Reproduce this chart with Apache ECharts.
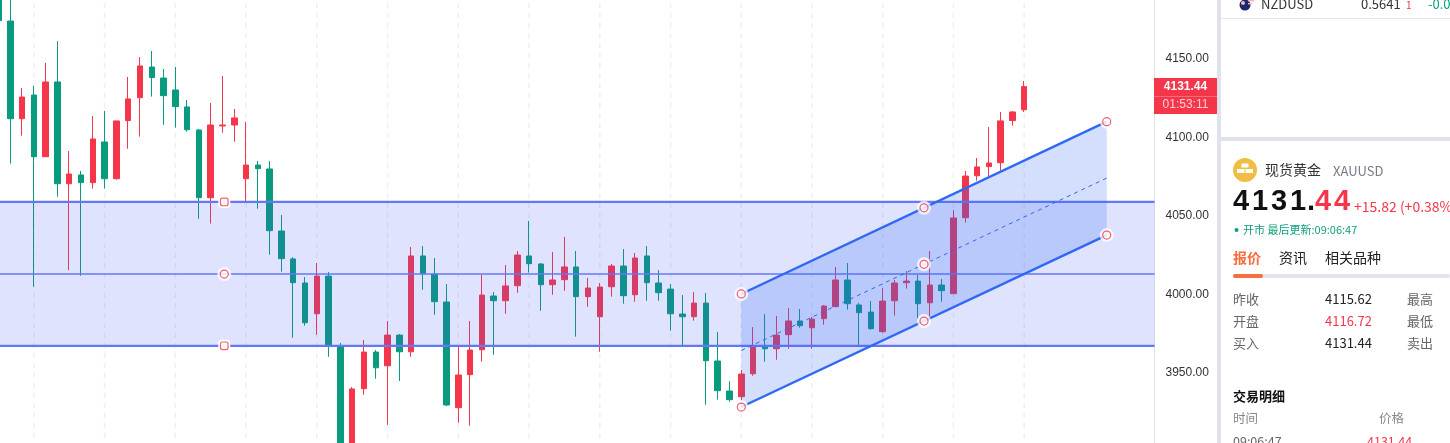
<!DOCTYPE html>
<html><head><meta charset="utf-8">
<style>html,body{margin:0;padding:0;background:#fff;overflow:hidden}#c{width:1450px;height:443px}</style>
<script src="https://cdn.jsdelivr.net/npm/echarts@6/dist/echarts.min.js"></script>
</head><body><div id="c"></div>
<script>
// candle rows: [open, close, low, high]
const candles = [
[4200,4173.5,4170,4205],[4173.2,4111,4082.4,4195],[4111,4124.8,4100.2,4130.6],[4126.1,4086.8,4004,4131.8],
[4086.8,4134.4,4086.8,4146.5],[4134.4,4069.6,4061.4,4160.5],[4069.6,4075.8,4014.6,4090.4],[4075.2,4070.3,4011,4077.7],
[4070.3,4098.1,4066.5,4112.7],[4096.2,4072.8,4066.5,4115.9],[4072.8,4109.6,4072.2,4109.6],[4109.8,4123.6,4091.9,4137.6],
[4124.4,4144.6,4099.6,4150.3],[4143.9,4137.2,4125.1,4154.1],[4136.9,4125.7,4107.2,4142.7],[4129.3,4118.7,4105.3,4143.9],
[4118.5,4104,4102.8,4122.9],[4103.8,4060.7,4047.3,4104.5],[4060.7,4107,4044.2,4121],[4106.4,4107,4102.1,4138.2],
[4107,4111.5,4096.4,4117.2],[4072.8,4081.5,4058.2,4108.9],[4081.5,4079.2,4053.7,4084.1],[4079,4039.7,4024.4,4084.1],
[4039.5,4021.9,4013.6,4049.7],[4021.7,4006.6,3971.5,4022.9],[4006.4,3981.1,3979.2,4010.2],[3986.8,4010.8,3973.5,4019.1],
[4010.8,3966,3959.4,4013.4],[3966,3900,3895,3968.2],[3900,3938.9,3895,3940.1],[3939.1,3962.4,3935.2,3970.1],
[3962.4,3952.4,3945.4,3963.7],[3953.7,3973.2,3916.1,3982.2],[3973.2,3962.6,3944,3973.9],[3962.6,4023.6,3959.4,4029.3],
[4023.6,4012.3,4002.1,4029.9],[4012.1,3994.5,3986.2,4022.3],[3994.3,3928.7,3928,4005.7],[3927,3947.8,3917.4,3965.6],
[3948,3963.7,3915.5,3982.2],[3963.9,3998.7,3956.3,4011.5],[3998.1,3995.1,3960.7,4000.6],[3995.1,4004.5,3986.8,4017.8],
[4004.7,4024.2,4000.2,4026.8],[4023.6,4018.7,4013,4045.9],[4018.5,4005.3,3988.7,4019.1],[4005.3,4008.3,3998.9,4026.1],
[4008.5,4016.6,4001.5,4035.7],[4016.6,3997.7,3972.2,4026.8],[3997.7,4003.2,3991.3,4009.6],[3984.9,4003.8,3962.6,4006.4],
[4004,4017.2,3997.7,4018.5],[4017.2,3998.3,3993.2,4028],[3998.9,4022.3,3994.5,4025.5],[4023.6,4006.6,3995.1,4029.9],
[4006.4,4000.2,3995.1,4014.6],[4002.5,3986.8,3976,4005.7],[3986.6,3984.9,3966.5,3998.7],[3984.9,3993.6,3982.4,4000.6],
[3993.6,3956.9,3928.9,4000],[3956.7,3937.8,3932.1,3975.2],[3937.6,3932.1,3930.8,3943.9],[3934,3948.4,3931.4,3951],
[3948.6,3966.2,3947.3,3978.3],[3965.6,3964.5,3956.3,3986.6],[3964.5,3973.2,3957.5,3985.4],[3973.5,3982.2,3964.5,3990.4],
[3982.2,3979.2,3977.9,3989.8],[3977.9,3983.4,3964.5,3984.7],[3983.7,3991.7,3979.8,3992.4],[3991.3,4008.3,3991.3,4016.6],
[4008.3,3993.2,3989.4,4019.1],[3992.4,3987.5,3966.2,3993.6],[3987.9,3977.3,3976.6,3994.9],[3975.4,3994.9,3974.7,4003.2],
[3995.1,4006.4,3985.6,4008.3],[4006.6,4007.6,4002.8,4014],[4007.6,3993.2,3983.9,4011.5],[3993.8,4005.1,3984.9,4026.8],
[4005.1,4001.5,3994.5,4008.9],[3999.6,4047.8,3999.6,4052.9],[4048,4074.5,4044.8,4077.7],[4074.7,4080.3,4071.5,4086],
[4080.5,4082.8,4074.3,4105.7],[4083,4109.6,4077.9,4115.3],[4109.8,4115.3,4106.6,4115.9],[4116.72,4131.44,4115.3,4135]
];
const barSlots = 99;                 // candle slots on the time axis, including empty future ones
const categories = Array.from({length: barSlots}, (_, i) => String(i));
const gridIndices = [3,9,15,21,27,33,39,45,51,57,63,69,75,81,87];
const yTicks = [3950,4000,4050,4100,4150];
const yMin = 3904.5, yMax = 4186.6;
// horizontal channel
const hLevels = [4058, 4012.1, 3966.4];
const hWidths = [2.2, 1.4, 2.2];
const hSpan = [-0.6, 98.05];
const hHandleIndex = 19.15;
// rising parallel channel: [index, price]
const chUpper = [[63,3999.4],[94,4109.1]];
const chLower = [[63,3927.4],[94,4036.9]];
const chMiddle = [[63,3963.4],[94,4073.2]];
const chMidIndex = 78.5;

const RED='#f5364a', GREEN='#089b7e', BLUE='#2f68f5', HBLUE='#6478f5';

function ptOnLine(l,x){return l[0][1]+(l[1][1]-l[0][1])*(x-l[0][0])/(l[1][0]-l[0][0]);}

const panelText = [
 // text,x,y,size,color,weight
 ['NZDUSD',1261,4,13,'#333',400],['0.5641',1361,4,13,'#333',400],['1',1406,5,10,RED,400],['-0.0',1428,4,13,'#0a9c7f',400],
 ['现货黄金',1265,170,14,'#333',400],['XAUUSD',1333,171,13,'#777a85',400],
 ['+15.82 (+0.38%',1354,207,14,RED,400],
 ['开市 最后更新:09:06:47',1243,230,11,'#0f9d80',400],
 ['报价',1233,258,14,'#fb6b3c',700],['资讯',1279,258,14,'#222',400],['相关品种',1325,258,14,'#222',400],
 ['昨收',1233,299,13,'#666',400],['4115.62',1325,299,13,'#222',400],['最高',1407,299,13,'#666',400],
 ['开盘',1233,321,13,'#666',400],['4116.72',1325,321,13,RED,400],['最低',1407,321,13,'#666',400],
 ['买入',1233,343,13,'#666',400],['4131.44',1325,343,13,'#222',400],['卖出',1407,343,13,'#666',400],
 ['交易明细',1233,396,13,'#111',700],
 ['时间',1233,418,12.5,'#888',400],['价格',1379,418,12.5,'#888',400],
 ['09:06:47',1233,441,12.5,'#666',400],['4131.44',1367,441,12.5,RED,400]
];
const bigPrice = [['4',1233,'#111'],['1',1252,'#111'],['3',1271,'#111'],['1',1290,'#111'],['.',1307,'#111'],['4',1315,RED],['4',1334,RED]];
const FONT='"Noto Sans CJK SC","Open Sans",sans-serif';
const graphics = [
 {type:'rect',shape:{x:1154,y:0,width:1,height:443},style:{fill:'#dfe2ed'},silent:true},
 {type:'rect',shape:{x:1217,y:0,width:4,height:443},style:{fill:'#dfe2ed'},silent:true},
 {type:'rect',shape:{x:1221,y:18,width:229,height:1},style:{fill:'#e3e6ef'},silent:true},
 {type:'rect',shape:{x:1221,y:137,width:229,height:4},style:{fill:'#dfe2ed'},silent:true},
 {type:'rect',shape:{x:1154,y:78,width:63,height:36},style:{fill:RED},silent:true},
 {type:'rect',shape:{x:1154,y:96,width:63,height:1},style:{fill:'#f76a79'},silent:true},
 {type:'text',style:{text:'4131.44',x:1185.5,y:87,fill:'#fff',font:'bold 12px "Liberation Sans",Arial',align:'center',verticalAlign:'middle'}},
 {type:'text',style:{text:'01:53:11',x:1185.5,y:105,fill:'#fdd0d5',font:'12px "Liberation Sans",Arial',align:'center',verticalAlign:'middle'}},
 {type:'circle',shape:{cx:1245,cy:5,r:5.5},style:{fill:'#1a2a6c'}},
 {type:'circle',shape:{cx:1243,cy:3,r:2},style:{fill:'#f3b7bd'}},
 {type:'rect',shape:{x:1248,y:0,width:6,height:1.4},style:{fill:'#f3b7bd'}},
 {type:'rect',shape:{x:1248,y:3,width:4,height:1.4},style:{fill:'#f3b7bd'}},
 {type:'circle',shape:{cx:1245,cy:170,r:12},style:{fill:'#f0bd45'}},
 {type:'rect',shape:{x:1241.5,y:163.5,width:7,height:4},style:{fill:'#fff'}},
 {type:'rect',shape:{x:1237,y:169,width:7.5,height:4},style:{fill:'#fff'}},
 {type:'rect',shape:{x:1245.5,y:169,width:7.5,height:4},style:{fill:'#fff'}},
 {type:'circle',shape:{cx:1236.5,cy:230,r:2},style:{fill:'#0f9d80'}},
 {type:'rect',shape:{x:1233,y:274,width:217,height:4,r:2},style:{fill:'#e2e4ee'}},
 {type:'rect',shape:{x:1233,y:274,width:30,height:4,r:2},style:{fill:'#fb6b3c'}}
].concat(bigPrice.map(t=>({type:'text',style:{text:t[0],x:t[1],y:202,fill:t[2],font:'bold 29px "Liberation Sans"',verticalAlign:'middle'}})))
 .concat(panelText.map(t=>({type:'text',style:{text:t[0],x:t[1],y:t[2],fill:t[4],font:t[5]+' '+t[3]+'px '+FONT,verticalAlign:'middle'}})));

function handle(api,x,y,square){
  const p=api.coord([x,y]);
  const halo={type:'circle',shape:{cx:p[0],cy:p[1],r:7},style:{fill:'rgba(255,255,255,0.75)'}};
  if(square) return [{type:'rect',shape:{x:p[0]-6,y:p[1]-6,width:12,height:12,r:3},style:{fill:'#fff'}},
    {type:'rect',shape:{x:p[0]-3.8,y:p[1]-3.8,width:7.6,height:7.6,r:2},style:{fill:'#fff',stroke:'#f2606f',lineWidth:1.2}}];
  return [halo,{type:'circle',shape:{cx:p[0],cy:p[1],r:4},style:{fill:'rgba(255,255,255,0.35)',stroke:'#f2606f',lineWidth:1.2}}];
}
function seg(api,a,b,stroke,w,dash){
  const p=api.coord(a),q=api.coord(b);
  return {type:'line',shape:{x1:p[0],y1:p[1],x2:q[0],y2:q[1]},style:{stroke,lineWidth:w,lineDash:dash||null,fill:null}};
}
function poly(api,pts,fill){return {type:'polygon',shape:{points:pts.map(a=>api.coord(a))},style:{fill}};}

function drawOverlay(params,api){
  const ch=[];
  ch.push(poly(api,[[hSpan[0],hLevels[0]],[hSpan[1],hLevels[0]],[hSpan[1],hLevels[2]],[hSpan[0],hLevels[2]]],'rgba(70,90,245,0.17)'));
  hLevels.forEach((v,i)=>ch.push(seg(api,[hSpan[0],v],[hSpan[1],v],HBLUE,hWidths[i])));
  ch.push(poly(api,[chUpper[0],chUpper[1],chLower[1],chLower[0]],'rgba(47,104,245,0.21)'));
  ch.push(seg(api,chUpper[0],chUpper[1],BLUE,2.4));
  ch.push(seg(api,chLower[0],chLower[1],BLUE,2.4));
  ch.push(seg(api,chMiddle[0],chMiddle[1],BLUE,1,[4,4]));
  hLevels.forEach((v,i)=>ch.push(...handle(api,hHandleIndex,v,i!==1)));
  [chUpper,chLower].forEach(l=>{
    l.forEach(pt=>ch.push(...handle(api,pt[0],pt[1])));
    ch.push(...handle(api,chMidIndex,ptOnLine(l,chMidIndex)));
  });
  ch.push(...handle(api,chMidIndex,ptOnLine(chMiddle,chMidIndex)));
  return {type:'group',children:ch};
}

const chart=echarts.init(document.getElementById('c'),null,{renderer:'canvas',width:1450,height:443});
chart.setOption({
  animation:false,
  backgroundColor:'#fff',
  grid:{left:-7.4,top:0,width:1167.2,height:443,containLabel:false,outerBoundsMode:'none'},
  xAxis:[
    {type:'category',data:categories,boundaryGap:true,axisLine:{show:false},axisTick:{show:false},axisLabel:{show:false},splitLine:{show:false}},
    {type:'value',min:-0.5,max:barSlots-0.5,show:false}
  ],
  yAxis:{type:'value',position:'right',offset:-5.3,min:yMin,max:yMax,scale:true,
    axisLine:{show:false},axisTick:{show:false},splitLine:{show:false},
    axisLabel:{customValues:yTicks,margin:11,color:'#333',fontFamily:'"Liberation Sans",Arial',fontSize:12,
      rich:{t:{color:'#333',fontFamily:'"Liberation Sans",Arial',fontSize:12,padding:[3,0,0,0]}},
      formatter:v=>'{t|'+v.toFixed(2)+'}'}},
  series:[
    {type:'custom',xAxisIndex:1,z:1,silent:true,clip:true,data:gridIndices.map(i=>[i]),encode:{x:0,y:-1},
     renderItem:(p,api)=>{const a=api.coord([api.value(0),yMax]),b=api.coord([api.value(0),yMin]);
       return {type:'line',shape:{x1:a[0],y1:a[1]+3,x2:b[0],y2:b[1]-3},style:{stroke:'#edeff4',lineWidth:1.5,lineDash:[5,5]}};}},
    {type:'candlestick',z:2,data:candles,barWidth:6,silent:true,
     itemStyle:{color:RED,color0:GREEN,borderColor:RED,borderColor0:GREEN,borderWidth:1}},
    {type:'custom',xAxisIndex:1,z:3,silent:true,clip:false,data:[[0]],encode:{x:0,y:-1},renderItem:drawOverlay}
  ],
  graphic:{elements:graphics}
});
</script></body></html>
